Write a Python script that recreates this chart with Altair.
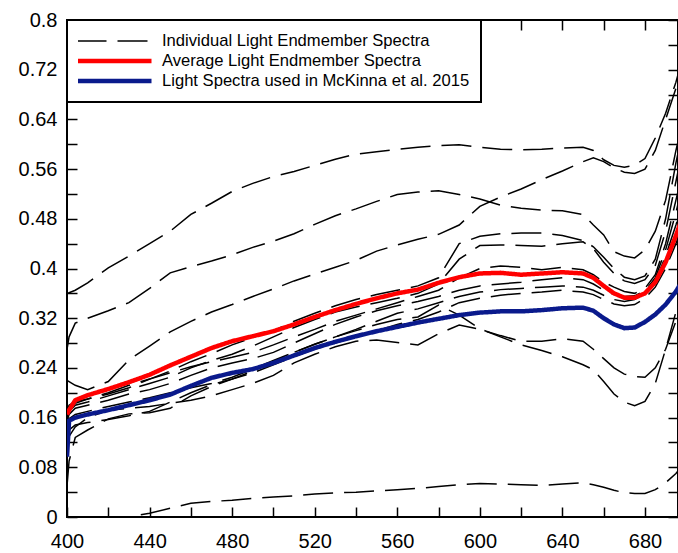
import altair as alt
import pandas as pd

wavelength = [400, 401, 404, 410, 420, 430, 440, 450, 460, 470, 480, 490, 500, 510, 520, 530,
              540, 550, 560, 570, 580, 590, 600, 610, 620, 630, 640, 650, 655, 660, 665, 670,
              675, 680, 685, 690, 695, 700]

indiv_01 = [0.36, 0.361, 0.365, 0.377, 0.401, 0.42, 0.44, 0.46, 0.487, 0.505, 0.524, 0.537, 0.548, 0.556,
            0.566, 0.576, 0.584, 0.588, 0.592, 0.595, 0.598, 0.599, 0.595, 0.592, 0.591, 0.592, 0.594,
            0.595, 0.59, 0.575, 0.566, 0.563, 0.566, 0.577, 0.61, 0.65, 0.70, 0.76]
indiv_02 = [0.27, 0.29, 0.312, 0.32, 0.332, 0.345, 0.368, 0.393, 0.403, 0.412, 0.422, 0.434, 0.444, 0.456,
            0.471, 0.485, 0.496, 0.508, 0.519, 0.523, 0.525, 0.519, 0.512, 0.502, 0.497, 0.494, 0.493,
            0.487, 0.47, 0.454, 0.427, 0.42, 0.417, 0.43, 0.46, 0.51, 0.59, 0.66]
indiv_03 = [0.22, 0.218, 0.212, 0.205, 0.218, 0.253, 0.275, 0.298, 0.315, 0.33, 0.342, 0.355, 0.367, 0.38,
            0.391, 0.402, 0.413, 0.428, 0.438, 0.447, 0.455, 0.47, 0.5, 0.515, 0.528, 0.543, 0.557,
            0.572, 0.578, 0.572, 0.562, 0.555, 0.553, 0.56, 0.59, 0.64, 0.69, 0.74]
indiv_04 = [0.17, 0.18, 0.186, 0.19, 0.2, 0.212, 0.222, 0.235, 0.25, 0.263, 0.277, 0.289, 0.3, 0.315,
            0.328, 0.34, 0.35, 0.358, 0.365, 0.372, 0.385, 0.44, 0.452, 0.456, 0.457, 0.457, 0.453,
            0.445, 0.435, 0.418, 0.4, 0.386, 0.382, 0.388, 0.415, 0.48, 0.57, 0.65]
indiv_05 = [0.16, 0.17, 0.18, 0.185, 0.195, 0.205, 0.215, 0.225, 0.24, 0.252, 0.262, 0.275, 0.29, 0.305,
            0.318, 0.33, 0.338, 0.345, 0.352, 0.36, 0.375, 0.415, 0.437, 0.438, 0.437, 0.436, 0.44,
            0.443, 0.432, 0.41, 0.392, 0.38, 0.376, 0.382, 0.405, 0.46, 0.54, 0.62]
indiv_06 = [0.168, 0.175, 0.183, 0.19, 0.198, 0.208, 0.222, 0.232, 0.242, 0.25, 0.257, 0.265, 0.277, 0.29,
            0.302, 0.315, 0.325, 0.335, 0.345, 0.355, 0.365, 0.385, 0.4, 0.404, 0.402, 0.398, 0.402,
            0.398, 0.39, 0.378, 0.37, 0.363, 0.36, 0.368, 0.39, 0.44, 0.51, 0.58]
indiv_07 = [0.155, 0.165, 0.175, 0.18, 0.188, 0.198, 0.205, 0.215, 0.228, 0.24, 0.248, 0.255, 0.265, 0.28,
            0.295, 0.31, 0.322, 0.332, 0.34, 0.347, 0.355, 0.365, 0.372, 0.375, 0.378, 0.382, 0.385,
            0.382, 0.375, 0.365, 0.358, 0.355, 0.356, 0.364, 0.385, 0.43, 0.49, 0.56]
indiv_08 = [0.15, 0.158, 0.165, 0.17, 0.178, 0.185, 0.192, 0.2, 0.208, 0.215, 0.225, 0.238, 0.252, 0.265,
            0.278, 0.29, 0.302, 0.315, 0.328, 0.335, 0.345, 0.355, 0.362, 0.366, 0.368, 0.37, 0.372,
            0.37, 0.365, 0.357, 0.35, 0.347, 0.35, 0.36, 0.38, 0.42, 0.47, 0.53]
indiv_09 = [0.13, 0.14, 0.148, 0.152, 0.157, 0.163, 0.17, 0.185, 0.2, 0.213, 0.222, 0.232, 0.245, 0.258,
            0.27, 0.28, 0.29, 0.3, 0.31, 0.318, 0.33, 0.345, 0.352, 0.357, 0.36, 0.362, 0.365,
            0.362, 0.358, 0.35, 0.343, 0.34, 0.342, 0.352, 0.37, 0.4, 0.44, 0.49]
indiv_10 = [0.05, 0.09, 0.128, 0.14, 0.158, 0.166, 0.168, 0.175, 0.195, 0.21, 0.222, 0.235, 0.25, 0.265,
            0.278, 0.29, 0.3, 0.31, 0.318, 0.322, 0.341, 0.325, 0.303, 0.29, 0.277, 0.268, 0.258,
            0.245, 0.237, 0.218, 0.198, 0.185, 0.179, 0.186, 0.215, 0.27, 0.33, 0.4]
indiv_11 = [0.12, 0.13, 0.145, 0.16, 0.172, 0.175, 0.178, 0.183, 0.188, 0.195, 0.205, 0.215, 0.228, 0.248,
            0.262, 0.274, 0.283, 0.285, 0.281, 0.277, 0.295, 0.309, 0.302, 0.292, 0.283, 0.283, 0.287,
            0.283, 0.27, 0.255, 0.24, 0.23, 0.226, 0.225, 0.24, 0.27, 0.315, 0.36]
indiv_12 = [-0.05, -0.05, -0.046, -0.035, -0.012, 0.0, 0.006, 0.014, 0.022, 0.025, 0.027, 0.03, 0.032, 0.034,
            0.037, 0.039, 0.04, 0.042, 0.044, 0.046, 0.049, 0.052, 0.054, 0.053, 0.052, 0.051, 0.053,
            0.055, 0.052, 0.048, 0.043, 0.039, 0.038, 0.038, 0.044, 0.055, 0.07, 0.09]

average = [0.165, 0.172, 0.188, 0.196, 0.206, 0.217, 0.229, 0.244, 0.258, 0.272, 0.283, 0.291, 0.299, 0.31,
           0.322, 0.333, 0.343, 0.352, 0.36, 0.366, 0.377, 0.386, 0.392, 0.393, 0.39, 0.392, 0.394,
           0.392, 0.385, 0.372, 0.36, 0.353, 0.353, 0.36, 0.378, 0.41, 0.453, 0.5]
mckinna = [0.097, 0.155, 0.16, 0.165, 0.172, 0.18, 0.188, 0.197, 0.211, 0.224, 0.232, 0.238, 0.248, 0.26,
           0.272, 0.282, 0.291, 0.299, 0.306, 0.313, 0.319, 0.325, 0.329, 0.331, 0.331, 0.333, 0.336,
           0.337, 0.332, 0.32, 0.31, 0.304, 0.305, 0.314, 0.326, 0.342, 0.363, 0.39]

series_names = ["Individual Light Endmember Spectra",
                "Average Light Endmember Spectra",
                "Light Spectra used in McKinna et al. 2015"]
series_colors = ["#000000", "#ff0000", "#0a1a8c"]
series_dashes = [[30, 11], [1, 0], [1, 0]]
series_widths = [1.5, 4.5, 4.5]

x_ticks = list(range(400, 700, 20))
y_ticks = [round(i * 0.04, 2) for i in range(21)]

individual = [indiv_01, indiv_02, indiv_03, indiv_04, indiv_05, indiv_06,
              indiv_07, indiv_08, indiv_09, indiv_10, indiv_11, indiv_12]

rows = []
for i, s in enumerate(individual):
    for w, v in zip(wavelength, s):
        rows.append({"wavelength": w, "value": v, "series": series_names[0], "line": f"ind{i:02d}"})
for w, v in zip(wavelength, average):
    rows.append({"wavelength": w, "value": v, "series": series_names[1], "line": "avg"})
for w, v in zip(wavelength, mckinna):
    rows.append({"wavelength": w, "value": v, "series": series_names[2], "line": "mck"})
df = pd.DataFrame(rows)

FONT = "Liberation Sans"
x_scale = alt.Scale(domain=[400, 696], nice=False, zero=False)
y_scale = alt.Scale(domain=[0, 0.8], nice=False, zero=False)

common_axis = dict(tickSize=10, tickWidth=1.5, tickColor="black", domain=False, grid=False,
                   offset=-10, labelFont=FONT, labelFontSize=20, labelColor="black",
                   labelFlush=False, labelOverlap=False)
tick_only = {k: v for k, v in common_axis.items() if not k.startswith("label")}

lines = alt.Chart(df).mark_line(clip=True).encode(
    x=alt.X("wavelength:Q", scale=x_scale, title=None,
            axis=alt.Axis(values=x_ticks, format="d", labelPadding=14,
                          labelExpr="datum.value % 40 == 0 ? datum.label : ''", **common_axis)),
    y=alt.Y("value:Q", scale=y_scale, title=None,
            axis=alt.Axis(values=y_ticks, labelPadding=10,
                          labelExpr="round(datum.value * 100) % 8 == 0 ? format(datum.value, '~g') : ''",
                          **common_axis)),
    color=alt.Color("series:N", title=None,
                    scale=alt.Scale(domain=series_names, range=series_colors),
                    legend=alt.Legend(orient="top-left", offset=0, padding=11, fillColor="white",
                                      strokeColor="black", labelFont=FONT, labelFontSize=16.6,
                                      labelColor="black", labelLimit=0, symbolType="stroke",
                                      symbolSize=5625, clipHeight=20, rowPadding=0,
                                      symbolOffset=-4, labelOffset=8)),
    strokeDash=alt.StrokeDash("series:N", title=None,
                              scale=alt.Scale(domain=series_names, range=series_dashes)),
    strokeWidth=alt.StrokeWidth("series:N", title=None,
                                scale=alt.Scale(type="ordinal", domain=series_names, range=series_widths)),
    detail="line:N",
)

frame_axes = alt.Chart(df).mark_line(opacity=0).encode(
    x=alt.X("wavelength:Q", scale=x_scale, title=None,
            axis=alt.Axis(orient="top", values=x_ticks, labels=False, **tick_only)),
    y=alt.Y("value:Q", scale=y_scale, title=None,
            axis=alt.Axis(orient="right", values=y_ticks, labels=False, **tick_only)),
    detail="line:N",
)

chart = alt.layer(lines, frame_axes).resolve_scale(
    x="independent", y="independent"
).properties(
    width=611, height=497,
    autosize=alt.AutoSizeParams(type="none"),
    padding={"left": 67, "top": 20, "right": 0, "bottom": 36},
).configure_view(
    stroke="black", strokeWidth=2
).configure_legend(
    strokeWidth=2
)

chart.save("out.html", embed_options={"renderer": "svg", "actions": False})
